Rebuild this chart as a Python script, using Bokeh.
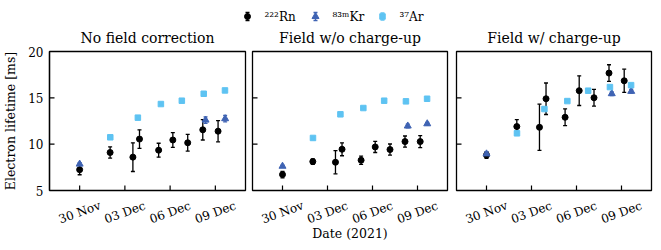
import math
import pandas as pd
from bokeh.plotting import figure
from bokeh.layouts import column, row
from bokeh.models import (ColumnDataSource, Whisker, TeeHead, FixedTicker, Range1d)
from bokeh.embed import file_html
from bokeh.resources import INLINE
from bokeh.core.properties import value

# ---------------- data ----------------
panel_titles = ["No field correction", "Field w/o charge-up", "Field w/ charge-up"]
tick_dates = ["2021-11-30", "2021-12-03", "2021-12-06", "2021-12-09"]
tick_labels = ["30 Nov", "03 Dec", "06 Dec", "09 Dec"]
x_label = "Date (2021)"
y_label = "Electron lifetime [ms]"
x_start, x_end = "2021-11-28", "2021-12-11"

rn_dates = ["2021-11-30 00:00", "2021-12-02 00:30", "2021-12-03 12:45",
            "2021-12-03 23:15", "2021-12-05 05:45", "2021-12-06 04:20",
            "2021-12-07 04:00", "2021-12-08 04:00", "2021-12-09 04:20"]
kr_dates = ["2021-11-30 00:00", "2021-12-08 08:25", "2021-12-09 15:35"]
ar_dates = ["2021-12-02 00:45", "2021-12-03 20:40", "2021-12-05 09:20",
            "2021-12-06 18:40", "2021-12-08 05:30", "2021-12-09 15:20"]

rn_vals = [
    [7.25, 9.10, 8.60, 10.55, 9.35, 10.45, 10.15, 11.55, 11.40],
    [6.72, 8.12, 8.05, 9.45, 8.27, 9.70, 9.42, 10.28, 10.28],
    [8.82, 11.90, 11.82, 14.90, 12.90, 15.77, 15.01, 17.67, 16.84],
]
rn_errs = [
    [0.55, 0.60, 1.55, 1.00, 0.75, 0.80, 0.90, 1.10, 1.15],
    [0.35, 0.30, 1.25, 0.70, 0.45, 0.60, 0.60, 0.60, 0.65],
    [0.35, 0.75, 2.50, 1.70, 0.90, 1.60, 0.90, 0.90, 1.25],
]
kr_vals = [
    [7.85, 12.60, 12.75],
    [7.62, 11.96, 12.20],
    [8.95, 15.45, 15.70],
]
kr_errs = [
    [0.15, 0.35, 0.35],
    [0.12, 0.20, 0.15],
    [0.25, 0.20, 0.20],
]
ar_vals = [
    [10.74, 12.86, 14.33, 14.69, 15.44, 15.80],
    [10.67, 13.22, 13.90, 14.69, 14.62, 14.90],
    [11.17, 13.79, 14.65, 15.77, 16.16, 16.37],
]
ar_errs = [
    [0.10, 0.10, 0.10, 0.12, 0.12, 0.10],
    [0.10, 0.10, 0.10, 0.12, 0.10, 0.10],
    [0.10, 0.10, 0.10, 0.10, 0.12, 0.12],
]
y_ticks = [5, 10, 15, 20]
legend_labels = ["²²²Rn", "⁸³ᵐKr", "³⁷Ar"]

# ---------------- style ----------------
FONT = "DejaVu Serif"
RN_C = "#000000"
KR_C = "#3f63b3"
AR_C = "#5ec3f2"


def add_series(p, dates, vals, errs, color, marker, size, cap):
    x = pd.to_datetime(dates)
    src = ColumnDataSource(dict(x=x, y=vals,
                                lo=[v - e for v, e in zip(vals, errs)],
                                hi=[v + e for v, e in zip(vals, errs)]))
    w = Whisker(source=src, base="x", lower="lo", upper="hi", dimension="height",
                line_color=color, line_width=1.3,
                lower_head=TeeHead(size=cap, line_color=color, line_width=1.3),
                upper_head=TeeHead(size=cap, line_color=color, line_width=1.3))
    p.add_layout(w)
    p.scatter("x", "y", source=src, marker=marker, size=size,
              fill_color=color, line_color=color, line_width=1)


frame_lefts = [49, 4, 5]
frame_rights = [3, 4, 2]
frame_ws = [196, 195, 195]
widths = [l + w + r for l, w, r in zip(frame_lefts, frame_ws, frame_rights)]
TH = 46           # top strip: legend + panel titles
PT = 5            # space between top strip and frames
FH = 139          # frame height
PB = 8            # space below frames inside the panel figures
SH = 250 - TH - PT - FH - PB   # strip below (tick labels, x label)

xr = Range1d(pd.Timestamp(x_start), pd.Timestamp(x_end))
tick_x = pd.to_datetime(tick_dates)

figs, strips = [], []
for i in range(3):
    W = widths[i]
    p = figure(width=W, height=PT + FH + PB, x_axis_type="datetime",
               output_backend="svg", toolbar_location=None,
               x_range=xr, y_range=Range1d(5, 20),
               min_border_left=frame_lefts[i], min_border_right=frame_rights[i],
               min_border_top=PT, min_border_bottom=PB)
    p.grid.visible = False
    p.outline_line_color = "black"
    p.outline_line_width = 1.3
    p.outline_line_alpha = 1
    p.xaxis.visible = False

    if i == 0:
        ya = p.yaxis[0]
        ya.axis_line_color = "black"
        ya.axis_line_width = 1.3
        ya.major_tick_in = 0
        ya.major_tick_out = 0
        ya.minor_tick_line_color = None
        ya.ticker = FixedTicker(ticks=y_ticks)
        ya.major_label_text_font = FONT
        ya.major_label_text_font_size = "12px"
        ya.major_label_text_color = "black"
        ya.major_label_standoff = 6
        ya.axis_label = y_label
        ya.axis_label_text_font = FONT
        ya.axis_label_text_font_style = "normal"
        ya.axis_label_text_font_size = "12.5px"
        ya.axis_label_text_color = "black"
        ya.axis_label_standoff = 7
    else:
        p.yaxis.visible = False

    # inward tick marks (half of each dash is clipped by the frame)
    p.scatter(x=[pd.Timestamp(x_start)] * len(y_ticks), y=y_ticks,
              marker="dash", size=10, line_color="black", line_width=1.2)
    p.scatter(x=tick_x, y=[5] * len(tick_x), marker="dash", angle=math.pi / 2,
              size=10, line_color="black", line_width=1.2)

    add_series(p, rn_dates, rn_vals[i], rn_errs[i], RN_C, "circle", 6, 4)
    add_series(p, kr_dates, kr_vals[i], kr_errs[i], KR_C, "triangle", 7, 4)
    add_series(p, ar_dates, ar_vals[i], ar_errs[i], AR_C, "square", 5.5, 3)
    figs.append(p)

    # strip below the frame carrying the rotated date labels
    s = figure(width=W, height=SH, x_axis_type="datetime",
               output_backend="svg", toolbar_location=None,
               x_range=xr, y_range=Range1d(0, SH),
               min_border_left=frame_lefts[i], min_border_right=frame_rights[i],
               min_border_top=0, min_border_bottom=0, outline_line_color=None)
    s.axis.visible = False
    s.grid.visible = False
    s.text(x=tick_x, y=[SH - 13.9] * len(tick_x), text=tick_labels, angle=0.349,
           text_align="center", text_baseline="middle",
           text_font=value(FONT), text_font_size="12px", text_color="black")
    if i == 1:
        mid = pd.Timestamp(x_start) + (pd.Timestamp(x_end) - pd.Timestamp(x_start)) / 2
        s.text(x=[mid], y=[SH - 35], text=[x_label], text_align="center",
               text_baseline="middle", text_font=value(FONT),
               text_font_size="12.5px", text_color="black")
    strips.append(s)

# ---------------- top strip: legend + titles ----------------
LW = sum(widths)
top = figure(width=LW, height=TH, output_backend="svg", toolbar_location=None,
             x_range=Range1d(0, LW), y_range=Range1d(0, TH),
             min_border=0, outline_line_color=None)
top.axis.visible = False
top.grid.visible = False

# panel titles, centred over each frame
title_x = []
acc = 0
for i in range(3):
    title_x.append(acc + frame_lefts[i] + frame_ws[i] / 2)
    acc += widths[i]
top.text(x=title_x, y=[TH - 37] * 3, text=panel_titles, text_align="center",
         text_baseline="middle", text_font=value(FONT), text_font_size="14px",
         text_color="black")

leg_x = [247, 315, 382]
leg_colors = [RN_C, KR_C, AR_C]
leg_markers = ["circle", "triangle", "square"]
leg_sizes = [6, 7, 5.5]
leg_bar = [4, 4, 3.5]
ly = TH - 16
for j in range(3):
    src = ColumnDataSource(dict(x=[leg_x[j]], y=[ly], lo=[ly - leg_bar[j]], hi=[ly + leg_bar[j]]))
    c = leg_colors[j]
    top.add_layout(Whisker(source=src, base="x", lower="lo", upper="hi", dimension="height",
                           line_color=c, line_width=1.3,
                           lower_head=TeeHead(size=4, line_color=c, line_width=1.3),
                           upper_head=TeeHead(size=4, line_color=c, line_width=1.3)))
    top.scatter("x", "y", source=src, marker=leg_markers[j], size=leg_sizes[j],
                fill_color=c, line_color=c)
    top.text(x=[leg_x[j] + 17], y=[ly], text=[legend_labels[j]],
             text_font=value(FONT), text_font_size="12px", text_baseline="middle",
             text_align="left", text_color="black")

layout = column(top, row(*figs, spacing=0), row(*strips, spacing=0), spacing=0)
open("out.html", "w").write(file_html(layout, INLINE))
